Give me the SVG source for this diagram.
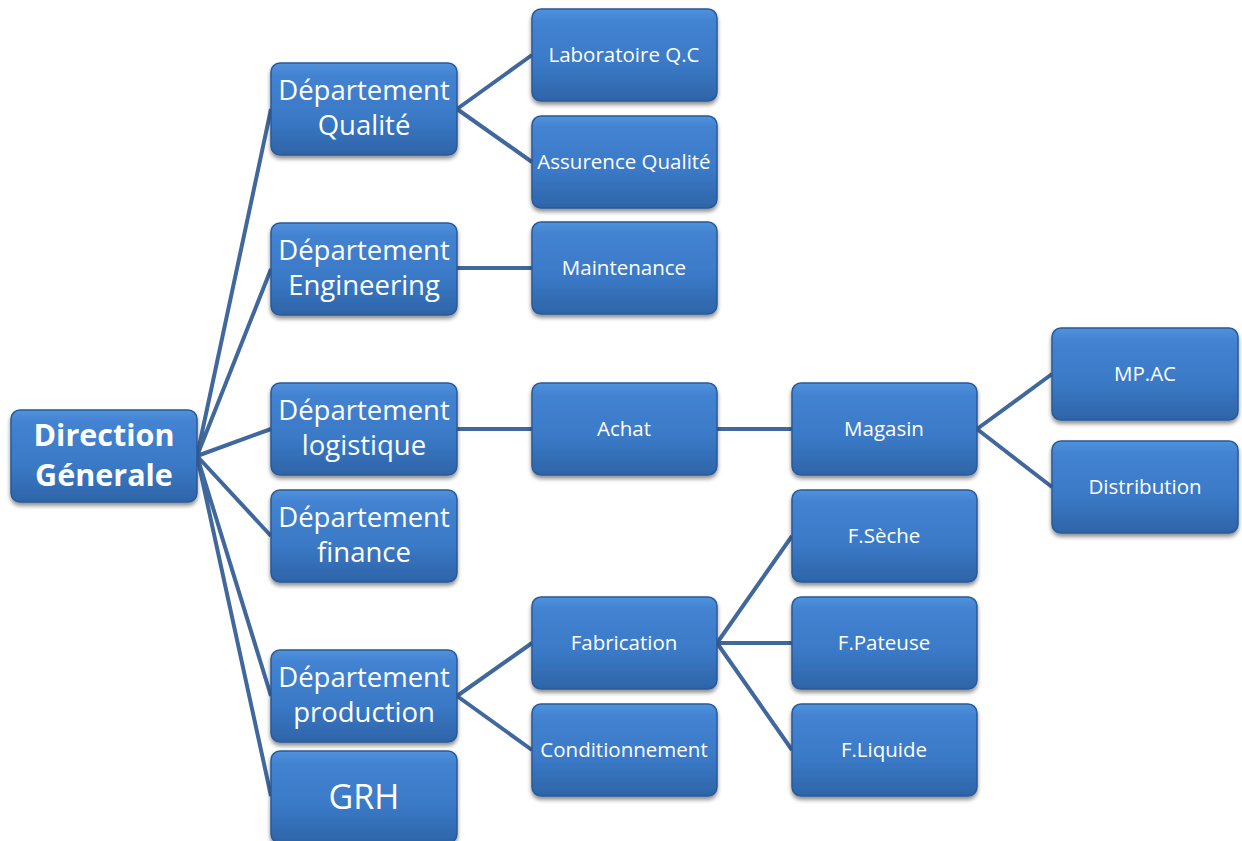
<svg xmlns="http://www.w3.org/2000/svg" width="1242" height="841" viewBox="0 0 1242 841">
<defs>
<linearGradient id="g" x1="0" y1="0" x2="0" y2="1">
<stop offset="0" stop-color="#5193dc"/>
<stop offset="0.12" stop-color="#4383d2"/>
<stop offset="0.6" stop-color="#3a79c6"/>
<stop offset="1" stop-color="#2e64a8"/>
</linearGradient>
<filter id="sh" x="-10%" y="-10%" width="120%" height="130%">
<feGaussianBlur in="SourceAlpha" stdDeviation="2"/>
<feOffset dx="0" dy="3" result="b"/>
<feComponentTransfer><feFuncA type="linear" slope="0.45"/></feComponentTransfer>
<feMerge><feMergeNode/><feMergeNode in="SourceGraphic"/></feMerge>
</filter>
<style>
.box{fill:url(#g);stroke:#2a5a96;stroke-width:1.5;filter:url(#sh)}
.c{stroke:#41689c;stroke-width:4;fill:none}
text{fill:#ffffff;font-family:"Open Sans","Liberation Sans",sans-serif;text-anchor:middle}
.big{font-size:27.5px}
.sm{font-size:20.5px}
.dir{font-size:30.5px;font-weight:bold}
</style>
</defs>
<rect width="1242" height="841" fill="#ffffff"/>
<g id="connectors">
<path class="c" d="M197 456 L271 109 M197 456 L271 269 M197 456 L271 429 M197 456 L271 536 M197 456 L271 696 M197 456 L271 796"/>
<path class="c" d="M457 109 L532 55 M457 109 L532 162 M457 268 L532 268 M457 429 L532 429 M717 429 L792 429 M977 429 L1052 374 M977 429 L1052 487 M457 696 L532 643 M457 696 L532 750 M717 643 L792 536 M717 643 L792 643 M717 643 L792 750"/>
</g>
<g id="n-direction"><rect class="box" x="11" y="410" width="186" height="92" rx="9"/><text class="dir" x="104" y="446">Direction</text><text class="dir" x="104" y="486">Génerale</text></g>
<g id="n-qualite"><rect class="box" x="271" y="63" width="186" height="92" rx="9"/><text class="big" x="364" y="100">Département</text><text class="big" x="364" y="135">Qualité</text></g>
<g id="n-engineering"><rect class="box" x="271" y="223" width="186" height="92" rx="9"/><text class="big" x="364" y="260">Département</text><text class="big" x="364" y="295">Engineering</text></g>
<g id="n-logistique"><rect class="box" x="271" y="383" width="186" height="92" rx="9"/><text class="big" x="364" y="420">Département</text><text class="big" x="364" y="455">logistique</text></g>
<g id="n-finance"><rect class="box" x="271" y="490" width="186" height="92" rx="9"/><text class="big" x="364" y="527">Département</text><text class="big" x="364" y="562">finance</text></g>
<g id="n-production"><rect class="box" x="271" y="650" width="186" height="92" rx="9"/><text class="big" x="364" y="687">Département</text><text class="big" x="364" y="722">production</text></g>
<g id="n-grh"><rect class="box" x="271" y="751" width="186" height="92" rx="9"/><text x="364" y="809" style="font-size:34px">GRH</text></g>
<g id="n-labo"><rect class="box" x="532" y="9" width="185" height="92" rx="9"/><text class="sm" x="624" y="62">Laboratoire Q.C</text></g>
<g id="n-assurence"><rect class="box" x="532" y="116" width="185" height="92" rx="9"/><text class="sm" x="624" y="169">Assurence Qualité</text></g>
<g id="n-maintenance"><rect class="box" x="532" y="222" width="185" height="92" rx="9"/><text class="sm" x="624" y="275">Maintenance</text></g>
<g id="n-achat"><rect class="box" x="532" y="383" width="185" height="92" rx="9"/><text class="sm" x="624" y="436">Achat</text></g>
<g id="n-fabrication"><rect class="box" x="532" y="597" width="185" height="92" rx="9"/><text class="sm" x="624" y="650">Fabrication</text></g>
<g id="n-conditionnement"><rect class="box" x="532" y="704" width="185" height="92" rx="9"/><text class="sm" x="624" y="757">Conditionnement</text></g>
<g id="n-magasin"><rect class="box" x="792" y="383" width="185" height="92" rx="9"/><text class="sm" x="884" y="436">Magasin</text></g>
<g id="n-fseche"><rect class="box" x="792" y="490" width="185" height="92" rx="9"/><text class="sm" x="884" y="543">F.Sèche</text></g>
<g id="n-fpateuse"><rect class="box" x="792" y="597" width="185" height="92" rx="9"/><text class="sm" x="884" y="650">F.Pateuse</text></g>
<g id="n-fliquide"><rect class="box" x="792" y="704" width="185" height="92" rx="9"/><text class="sm" x="884" y="757">F.Liquide</text></g>
<g id="n-mpac"><rect class="box" x="1052" y="328" width="186" height="92" rx="9"/><text class="sm" x="1145" y="381">MP.AC</text></g>
<g id="n-distribution"><rect class="box" x="1052" y="441" width="186" height="92" rx="9"/><text class="sm" x="1145" y="494">Distribution</text></g>
</svg>
